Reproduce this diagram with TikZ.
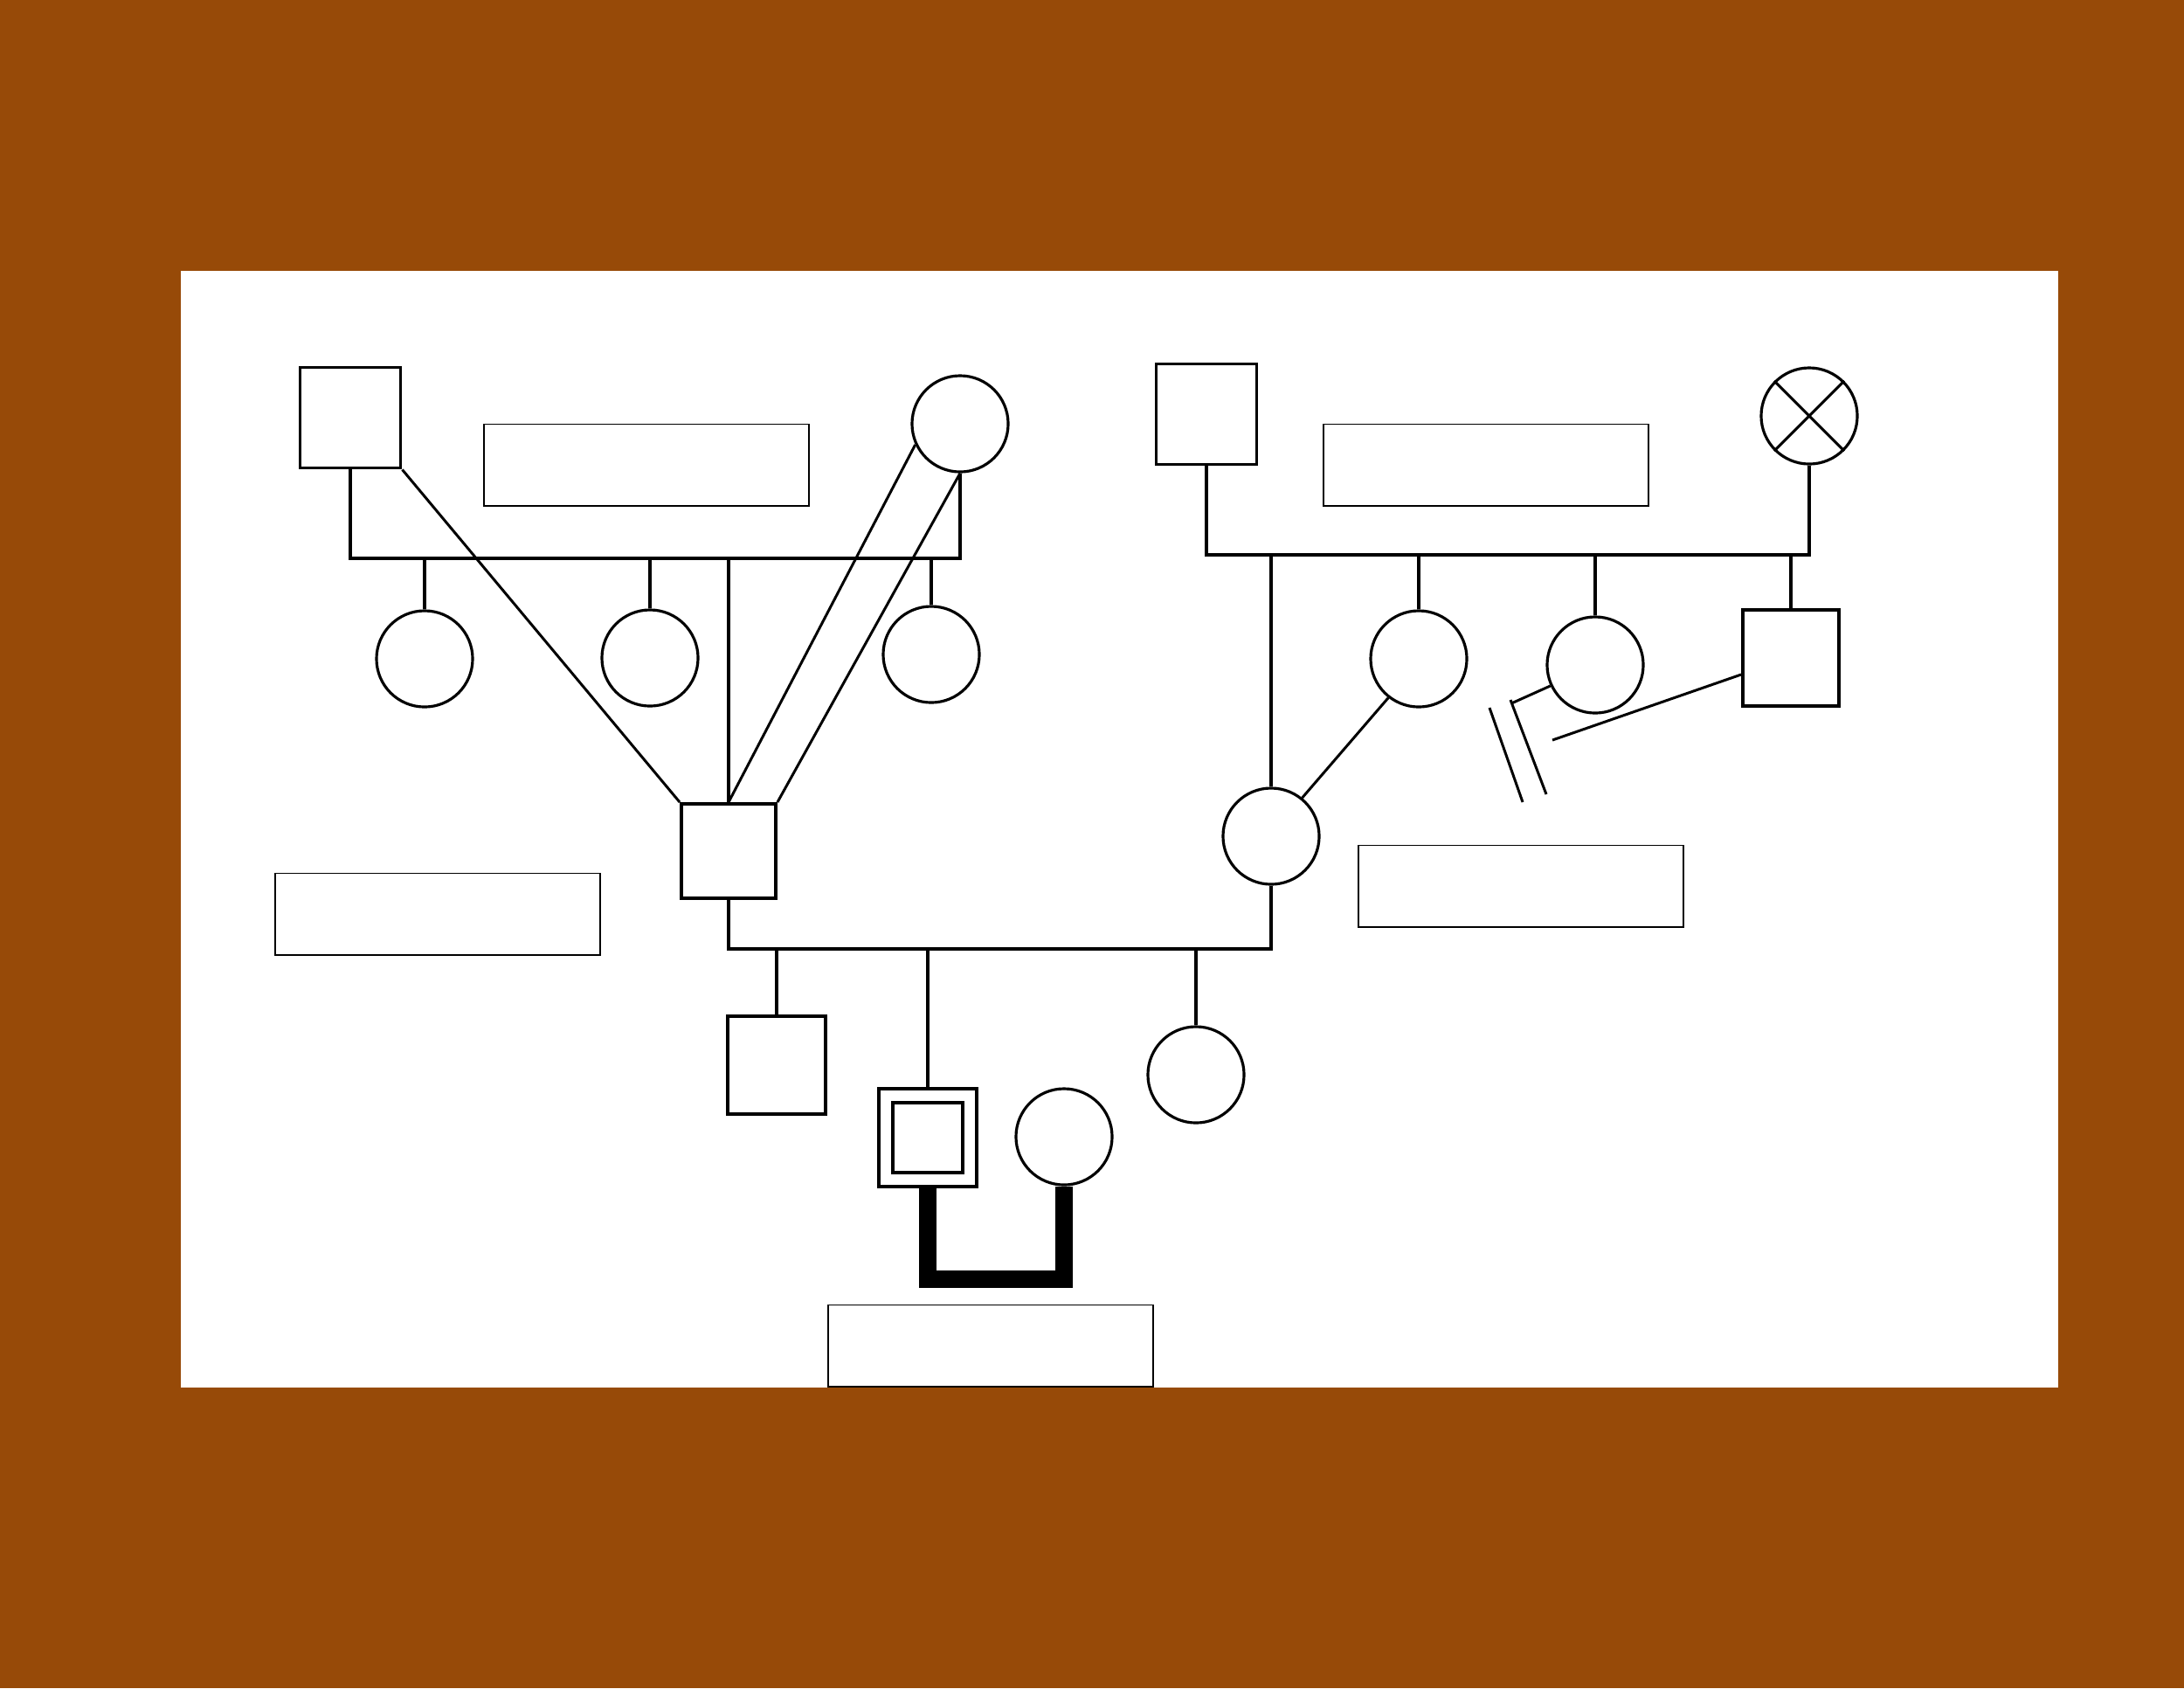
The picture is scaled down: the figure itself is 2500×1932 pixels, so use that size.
\documentclass[tikz,border=0pt]{standalone}
\usepackage{tikz}
\usepackage{xcolor}
\definecolor{frame-brown}{RGB}{151,74,8}
\tikzset{
    male/.style = {draw=black, rectangle, line width=1.1pt, minimum size=1.12cm, inner sep=0pt},
    female/.style = {draw=black, circle, line width=0.9pt, minimum size=1.1cm, inner sep=0pt},
    name-box/.style = {draw=black, rectangle, line width=0.55pt, minimum width=3.71cm, minimum height=0.93cm, inner sep=0pt},
    descent/.style = {line width=1.05pt},
    partner-line/.style = {line width=0.85pt},
    consanguine/.style = {line width=5.7pt},
}

\begin{document}
\begin{tikzpicture}[x=0.01cm, y=-0.01cm]
\fill[frame-brown] (0,0) rectangle (2500,1932);
\fill[white] (207,310) rectangle (2356,1588);

\node [male, minimum size=1.15cm] (paternal-grandfather) at (401,478) {};
\node [female] (paternal-grandmother) at (1099,485) {};
\node [name-box] (box-paternal) at (740,532) {};
\node [female] (aunt-1) at (486,754) {};
\node [female] (aunt-2) at (744,753) {};
\node [female] (aunt-3) at (1066,749) {};
\node [male, minimum size=1.08cm] (father) at (834,974) {};
\node [name-box] (box-father) at (501,1046) {};

\node [male, minimum size=1.15cm] (maternal-grandfather) at (1381,474) {};
\node [female] (maternal-grandmother) at (2071,476) {};
\node [name-box] (box-maternal) at (1701,532) {};
\node [female] (mother) at (1455,957) {};
\node [female] (maternal-aunt-1) at (1624,754) {};
\node [female] (maternal-aunt-2) at (1826,761) {};
\node [male, minimum size=1.1cm] (uncle-in-law) at (2050,753) {};
\node [name-box] (box-mother) at (1741,1014) {};

\node [male] (brother) at (889,1219) {};
\node [male, minimum size=1.12cm] (proband) at (1062,1302) {};
\node [male, minimum size=0.8cm] (proband-inner) at (proband.center) {};
\node [female] (spouse) at (1218,1301) {};
\node [female] (sister) at (1369,1230) {};
\node [name-box] (box-proband) at (1134,1540) {};

\coordinate (union-paternal) at (750,639);
\coordinate (union-maternal) at (1700,635);
\coordinate (union-parents) at (1140,1086);
\coordinate (union-proband) at (1140,1464);
\coordinate (break-top) at (1730,805);
\coordinate (break-end) at (1777,847);
\coordinate (slash-1-top) at (1705,810);
\coordinate (slash-1-bottom) at (1743,918);
\coordinate (slash-2-top) at (1729,801);
\coordinate (slash-2-bottom) at (1770,909);

\draw[descent] (paternal-grandfather.south) |- (union-paternal) -| (paternal-grandmother.south);
\draw[descent] (aunt-1.north) -- (aunt-1.north |- union-paternal);
\draw[descent] (aunt-2.north) -- (aunt-2.north |- union-paternal);
\draw[descent] (aunt-3.north) -- (aunt-3.north |- union-paternal);
\draw[descent] (father.north) -- (father.north |- union-paternal);
\draw[partner-line] (paternal-grandfather.south east) -- (father.north west);
\draw[partner-line] (paternal-grandmother.205) -- (father.north);
\draw[partner-line] (paternal-grandmother.south) -- (father.north east);

\draw[descent] (maternal-grandfather.south) |- (union-maternal) -| (maternal-grandmother.south);
\draw[partner-line] (maternal-grandmother.45) -- (maternal-grandmother.225);
\draw[partner-line] (maternal-grandmother.135) -- (maternal-grandmother.315);
\draw[descent] (mother.north) -- (mother.north |- union-maternal);
\draw[descent] (maternal-aunt-1.north) -- (maternal-aunt-1.north |- union-maternal);
\draw[descent] (maternal-aunt-2.north) -- (maternal-aunt-2.north |- union-maternal);
\draw[descent] (uncle-in-law.north) -- (uncle-in-law.north |- union-maternal);
\draw[partner-line] (maternal-aunt-1.232) -- (mother.51);
\draw[partner-line] (maternal-aunt-2.205) -- (break-top);
\draw[partner-line] (uncle-in-law.west) ++(0,19) -- (break-end);
\draw[partner-line] (slash-1-top) -- (slash-1-bottom);
\draw[partner-line] (slash-2-top) -- (slash-2-bottom);

\draw[descent] (father.south) |- (union-parents) -| (mother.south);
\draw[descent] (brother.north) -- (brother.north |- union-parents);
\draw[descent] (proband.north) -- (proband.north |- union-parents);
\draw[descent] (sister.north) -- (sister.north |- union-parents);
\draw[consanguine] (proband.south) |- (union-proband) -| (spouse.south);
\end{tikzpicture}
\end{document}
